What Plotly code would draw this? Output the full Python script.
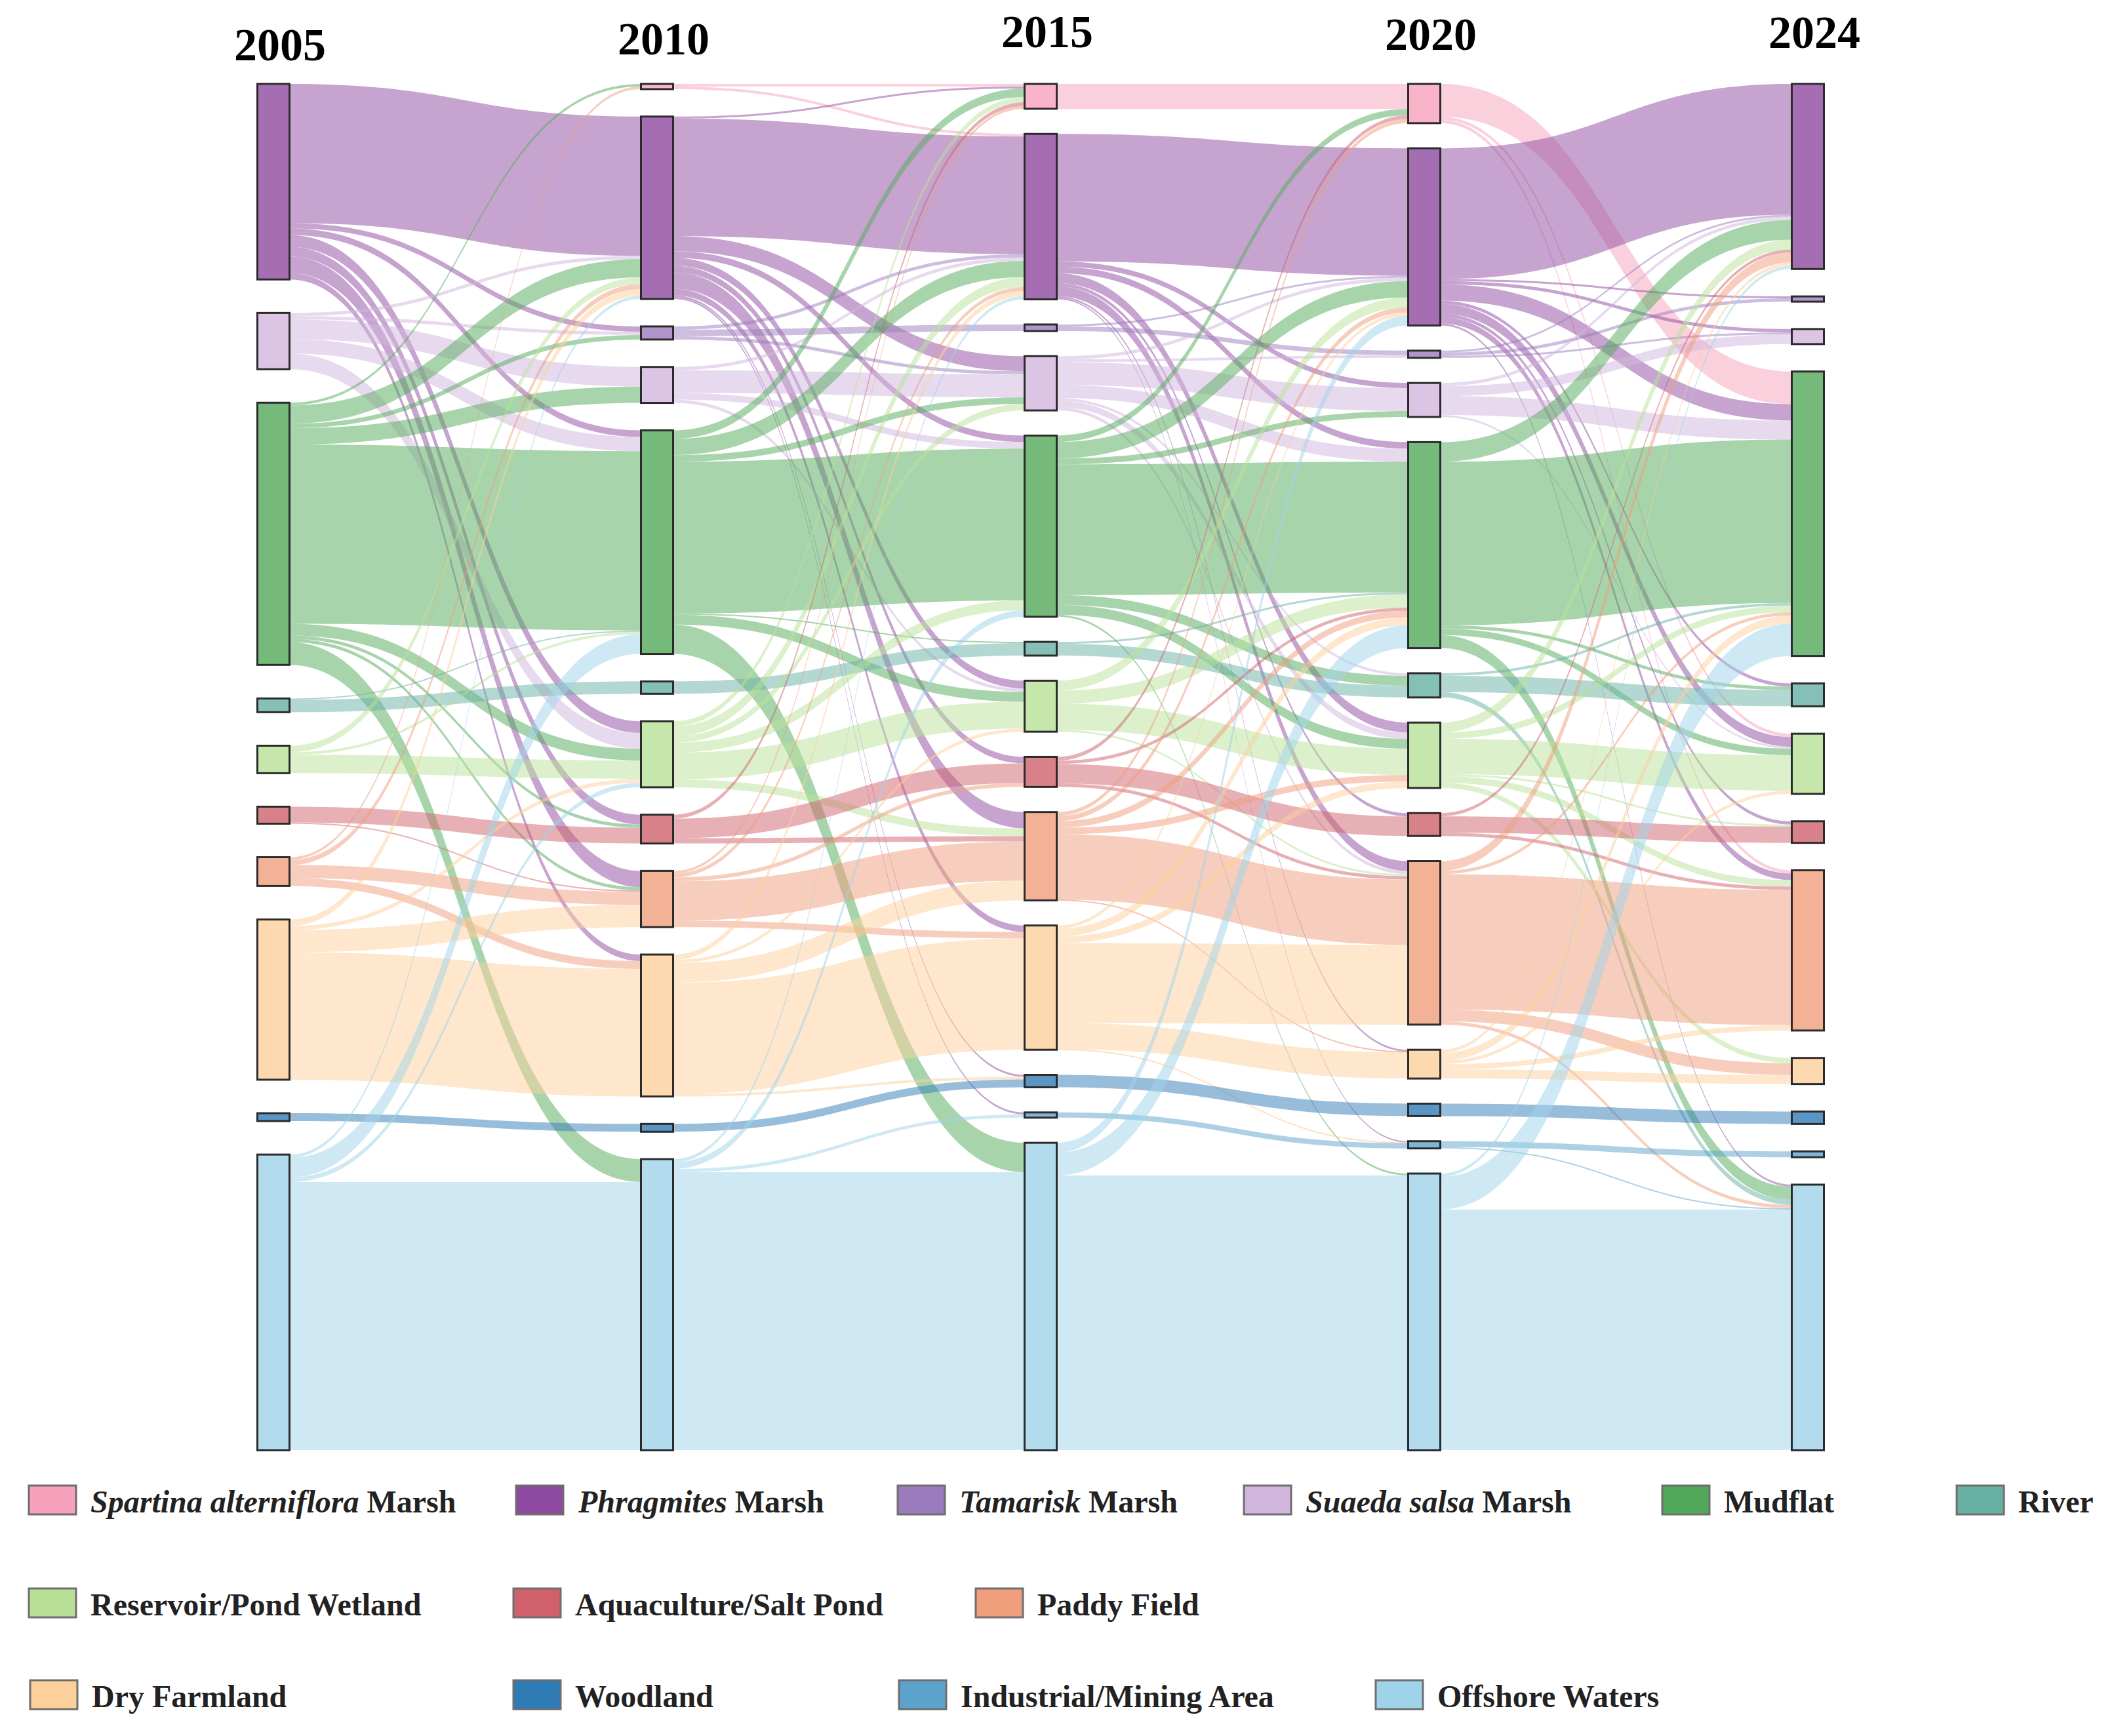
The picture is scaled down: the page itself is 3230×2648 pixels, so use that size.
import plotly.graph_objects as go

# Catégories d'occupation du sol (ordre de la légende et des colonnes)
years = ["2005", "2010", "2015", "2020", "2024"]
codes = ["SPA", "PHR", "TAM", "SUA", "MUD", "RIV", "RES",
         "AQU", "PAD", "DRY", "WOO", "IND", "OFF"]
names = ["<i>Spartina alterniflora</i> Marsh", "<i>Phragmites</i> Marsh",
         "<i>Tamarisk</i> Marsh", "<i>Suaeda salsa</i> Marsh", "Mudflat", "River",
         "Reservoir/Pond Wetland", "Aquaculture/Salt Pond", "Paddy Field",
         "Dry Farmland", "Woodland", "Industrial/Mining Area", "Offshore Waters"]
colors = ["#f7a1bc", "#8e4aa0", "#9b7bbd", "#d2b5dd", "#52a95a", "#67b0a4",
          "#b8e197", "#d0616b", "#f09e7c", "#fdd09b", "#2f7bb6", "#5ca2cc",
          "#9fd3ea"]

# Transitions (source, cible, surface) estimées sur la figure
flows_2005_2010 = [
    ("PHR", "PHR", 213), ("PHR", "TAM", 8), ("PHR", "MUD", 10), ("PHR", "RES", 18),
    ("PHR", "AQU", 15), ("PHR", "PAD", 25), ("PHR", "DRY", 10),
    ("SUA", "PHR", 5), ("SUA", "TAM", 5), ("SUA", "SUA", 30), ("SUA", "MUD", 22),
    ("SUA", "RES", 24),
    ("MUD", "SPA", 4), ("MUD", "PHR", 28), ("MUD", "TAM", 7), ("MUD", "SUA", 25),
    ("MUD", "MUD", 274), ("MUD", "RES", 18), ("MUD", "AQU", 5), ("MUD", "PAD", 5),
    ("MUD", "OFF", 35),
    ("RIV", "MUD", 2), ("RIV", "RIV", 19),
    ("RES", "PHR", 10), ("RES", "MUD", 4), ("RES", "RES", 28),
    ("AQU", "AQU", 24), ("AQU", "PAD", 2),
    ("PAD", "SPA", 4), ("PAD", "PHR", 8), ("PAD", "PAD", 20), ("PAD", "DRY", 12),
    ("DRY", "PHR", 10), ("DRY", "RES", 6), ("DRY", "PAD", 34), ("DRY", "DRY", 195),
    ("WOO", "WOO", 12),
    ("OFF", "PHR", 5), ("OFF", "MUD", 30), ("OFF", "RES", 7), ("OFF", "OFF", 410),
]
flows_2010_2015 = [
    ("SPA", "SPA", 4), ("SPA", "PHR", 4),
    ("PHR", "SPA", 3), ("PHR", "PHR", 180), ("PHR", "SUA", 23), ("PHR", "MUD", 10),
    ("PHR", "RES", 12), ("PHR", "AQU", 10), ("PHR", "PAD", 25), ("PHR", "DRY", 10),
    ("PHR", "WOO", 3), ("PHR", "IND", 3),
    ("TAM", "PHR", 5), ("TAM", "TAM", 10), ("TAM", "SUA", 5),
    ("SUA", "PHR", 5), ("SUA", "SUA", 35), ("SUA", "MUD", 10), ("SUA", "RES", 5),
    ("MUD", "SPA", 13), ("MUD", "PHR", 25), ("MUD", "SUA", 10), ("MUD", "MUD", 232),
    ("MUD", "RIV", 2), ("MUD", "RES", 15), ("MUD", "OFF", 45),
    ("RIV", "RIV", 19),
    ("RES", "SPA", 8), ("RES", "PHR", 15), ("RES", "SUA", 10), ("RES", "MUD", 15),
    ("RES", "RES", 41), ("RES", "PAD", 12),
    ("AQU", "SPA", 6), ("AQU", "AQU", 30), ("AQU", "PAD", 8),
    ("PAD", "SPA", 4), ("PAD", "PHR", 6), ("PAD", "AQU", 6), ("PAD", "PAD", 60),
    ("PAD", "DRY", 10),
    ("DRY", "PHR", 8), ("DRY", "RES", 5), ("DRY", "PAD", 30), ("DRY", "DRY", 170),
    ("DRY", "WOO", 4),
    ("WOO", "WOO", 12),
    ("OFF", "PHR", 5), ("OFF", "MUD", 10), ("OFF", "IND", 5), ("OFF", "OFF", 425),
]
flows_2015_2020 = [
    ("SPA", "SPA", 38),
    ("PHR", "PHR", 195), ("PHR", "SUA", 8), ("PHR", "MUD", 10), ("PHR", "RES", 15),
    ("PHR", "AQU", 5), ("PHR", "PAD", 15), ("PHR", "DRY", 3), ("PHR", "IND", 2),
    ("TAM", "PHR", 3), ("TAM", "TAM", 7),
    ("SUA", "PHR", 5), ("SUA", "TAM", 4), ("SUA", "SUA", 35), ("SUA", "MUD", 20),
    ("SUA", "RIV", 4), ("SUA", "RES", 10), ("SUA", "PAD", 5),
    ("MUD", "SPA", 10), ("MUD", "PHR", 25), ("MUD", "SUA", 9), ("MUD", "MUD", 200),
    ("MUD", "RIV", 15), ("MUD", "RES", 15), ("MUD", "OFF", 3),
    ("RIV", "MUD", 3), ("RIV", "RIV", 18),
    ("RES", "PHR", 15), ("RES", "MUD", 20), ("RES", "RES", 40), ("RES", "PAD", 3),
    ("AQU", "SPA", 6), ("AQU", "MUD", 5), ("AQU", "AQU", 30), ("AQU", "PAD", 5),
    ("PAD", "SPA", 6), ("PAD", "PHR", 8), ("PAD", "MUD", 10), ("PAD", "RES", 10),
    ("PAD", "PAD", 100), ("PAD", "DRY", 1),
    ("DRY", "PHR", 5), ("DRY", "MUD", 12), ("DRY", "RES", 10), ("DRY", "PAD", 122),
    ("DRY", "DRY", 40), ("DRY", "IND", 1),
    ("WOO", "WOO", 19),
    ("IND", "IND", 8),
    ("OFF", "PHR", 15), ("OFF", "MUD", 35), ("OFF", "OFF", 420),
]
flows_2020_2024 = [
    ("SPA", "MUD", 50), ("SPA", "RES", 5), ("SPA", "PAD", 5),
    ("PHR", "PHR", 200), ("PHR", "TAM", 3), ("PHR", "SUA", 5), ("PHR", "MUD", 25),
    ("PHR", "RIV", 5), ("PHR", "RES", 15), ("PHR", "AQU", 5), ("PHR", "PAD", 10),
    ("PHR", "OFF", 3),
    ("TAM", "PHR", 3), ("TAM", "TAM", 5), ("TAM", "SUA", 3),
    ("SUA", "PHR", 5), ("SUA", "SUA", 15), ("SUA", "MUD", 29), ("SUA", "RES", 3),
    ("MUD", "PHR", 30), ("MUD", "MUD", 250), ("MUD", "RIV", 5), ("MUD", "RES", 10),
    ("MUD", "OFF", 20),
    ("RIV", "MUD", 4), ("RIV", "RIV", 25), ("RIV", "OFF", 8),
    ("RES", "PHR", 15), ("RES", "MUD", 10), ("RES", "RES", 54), ("RES", "AQU", 3),
    ("RES", "PAD", 10), ("RES", "DRY", 8),
    ("AQU", "PHR", 5), ("AQU", "AQU", 25), ("AQU", "PAD", 5),
    ("PAD", "PHR", 15), ("PAD", "MUD", 5), ("PAD", "PAD", 207), ("PAD", "DRY", 18),
    ("PAD", "OFF", 5),
    ("DRY", "PHR", 5), ("DRY", "MUD", 12), ("DRY", "RES", 5), ("DRY", "PAD", 8),
    ("DRY", "DRY", 14),
    ("WOO", "WOO", 19),
    ("IND", "IND", 9), ("IND", "OFF", 2),
    ("OFF", "PHR", 5), ("OFF", "MUD", 50), ("OFF", "OFF", 368),
]
transitions = [flows_2005_2010, flows_2010_2015, flows_2015_2020, flows_2020_2024]

# Mise en page (pixels de la page 3230 x 2648, marge du body = 8 px)
FIG_W, FIG_H, OFF_PX = 3214, 2632, 8
COL_X0, COL_STEP = 417, 585
SPAN_TOP, SPAN_BOTTOM = 128, 2212
NODE_PAD, NODE_THICK = 84, 49
TITLE_Y = [69, 60, 49, 52, 50]


def rgba(hex_color, alpha):
    h = hex_color.lstrip("#")
    r, g, b = int(h[0:2], 16), int(h[2:4], 16), int(h[4:6], 16)
    return f"rgba({r},{g},{b},{alpha})"


def px_x(x):
    return (x - OFF_PX) / FIG_W


def px_y(y):
    return (y - OFF_PX) / FIG_H


# Construction des noeuds (colonne, catégorie)
node_in, node_out = {}, {}
for t, flows in enumerate(transitions):
    for s, d, v in flows:
        node_out[(t, s)] = node_out.get((t, s), 0) + v
        node_in[(t + 1, d)] = node_in.get((t + 1, d), 0) + v
keys = sorted(set(node_in) | set(node_out), key=lambda k: (k[0], codes.index(k[1])))
index = {k: i for i, k in enumerate(keys)}
value = {k: max(node_in.get(k, 0), node_out.get(k, 0)) for k in keys}

columns = [[k for k in keys if k[0] == c] for c in range(len(years))]
ky = min((FIG_H - (len(col) - 1) * NODE_PAD) / sum(value[k] for k in col)
         for col in columns)

node_x, node_y = [0.0] * len(keys), [0.0] * len(keys)
for c, col in enumerate(columns):
    total = ky * sum(value[k] for k in col)
    gap = (SPAN_BOTTOM - SPAN_TOP - total) / (len(col) - 1)
    y = SPAN_TOP
    for k in col:
        h = ky * value[k]
        node_x[index[k]] = px_x(COL_X0 + c * COL_STEP)
        node_y[index[k]] = px_y(y + h / 2)
        y += h + gap

node_colors = [rgba(colors[codes.index(k[1])], 0.8) for k in keys]
node_names = [f"{years[k[0]]} " + names[codes.index(k[1])] for k in keys]

src, dst, val, link_colors = [], [], [], []
for t, flows in enumerate(transitions):
    for s, d, v in flows:
        src.append(index[(t, s)])
        dst.append(index[(t + 1, d)])
        val.append(v)
        link_colors.append(rgba(colors[codes.index(s)], 0.5))

fig = go.Figure(go.Sankey(
    arrangement="fixed",
    domain=dict(x=[0, 1], y=[0, 1]),
    node=dict(
        label=[""] * len(keys),
        customdata=node_names,
        hovertemplate="%{customdata}: %{value}<extra></extra>",
        x=node_x,
        y=node_y,
        pad=NODE_PAD,
        thickness=NODE_THICK,
        color=node_colors,
        line=dict(color="#2b2b2b", width=3),
    ),
    link=dict(source=src, target=dst, value=val, color=link_colors),
))

# Années au-dessus des colonnes
for c, year in enumerate(years):
    fig.add_annotation(
        x=px_x(COL_X0 + c * COL_STEP + 10), y=1 - px_y(TITLE_Y[c]),
        xref="paper", yref="paper", text=f"<b>{year}</b>", showarrow=False,
        xanchor="center", yanchor="middle",
        font=dict(family="Liberation Serif", size=70, color="#000000"))

# Légende dessinée (3 lignes irrégulières comme dans la figure)
legend_rows = {2288: ["SPA", "PHR", "TAM", "SUA", "MUD", "RIV"],
               2445: ["RES", "AQU", "PAD"],
               2585: ["DRY", "WOO", "IND", "OFF"]}
legend_left = {"SPA": 44, "PHR": 787, "TAM": 1369, "SUA": 1897, "MUD": 2535,
               "RIV": 2984, "RES": 44, "AQU": 783, "PAD": 1488, "DRY": 46,
               "WOO": 783, "IND": 1371, "OFF": 2098}
SW_W, SW_H = 72, 44
for row_y, row in legend_rows.items():
    for code in row:
        i = codes.index(code)
        x0 = legend_left[code]
        fig.add_shape(
            type="rect", xref="paper", yref="paper",
            x0=px_x(x0), x1=px_x(x0 + SW_W),
            y0=1 - px_y(row_y + SW_H / 2), y1=1 - px_y(row_y - SW_H / 2),
            fillcolor=colors[i], line=dict(color="#6e6e6e", width=3))
        fig.add_annotation(
            x=px_x(x0 + SW_W + 20), y=1 - px_y(row_y + 2),
            xref="paper", yref="paper", text=f"<b>{names[i]}</b>",
            showarrow=False, xanchor="left", yanchor="middle",
            font=dict(family="Liberation Serif", size=48, color="#222222"))

fig.update_layout(
    width=FIG_W, height=FIG_H,
    margin=dict(l=0, r=0, t=0, b=0),
    paper_bgcolor="white",
    plot_bgcolor="white",
    showlegend=False,
)

fig.write_html("out.html")
